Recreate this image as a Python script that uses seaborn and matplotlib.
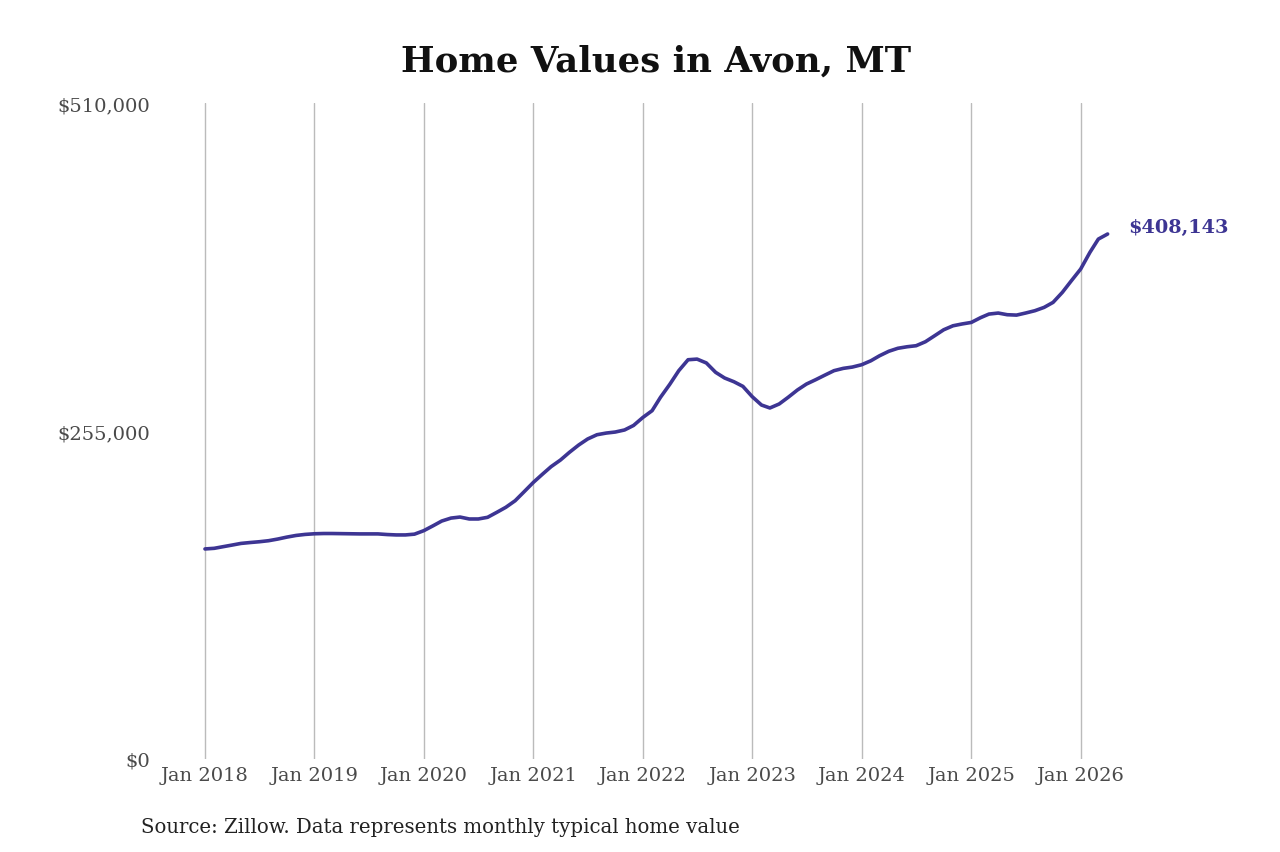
import numpy as np
import pandas as pd
import matplotlib
matplotlib.use("Agg")
import matplotlib.pyplot as plt
import matplotlib.dates as mdates
import seaborn as sns

# Monthly typical home value, Jan 2018 - Apr 2026
values_2018 = [163300, 163800, 165000, 166300, 167600, 168300, 168900, 169700, 171000, 172500, 173800, 174600]
values_2019 = [175100, 175300, 175300, 175200, 175100, 175000, 175000, 175000, 174500, 174200, 174200, 174800]
values_2020 = [177500, 181300, 185000, 187300, 188100, 186600, 186600, 187900, 191800, 195700, 200800, 207800]
values_2021 = [215100, 221600, 227300, 232400, 238400, 244100, 248800, 252100, 253400, 254200, 255800, 259300]
values_2022 = [265500, 270800, 281200, 291300, 301900, 310400, 310900, 307900, 300600, 296200, 293300, 289700]
values_2023 = [281700, 275200, 272900, 276000, 281200, 286900, 291500, 294900, 298500, 301900, 303700, 304700]
values_2024 = [306500, 309600, 313500, 317000, 319300, 320500, 321300, 324400, 329100, 333700, 336800, 338200]
values_2025 = [339400, 343100, 345900, 346700, 345400, 345100, 346700, 348500, 351100, 355000, 362800, 371800]
values_2026 = [380900, 393900, 404200, 408143]

values = (values_2018 + values_2019 + values_2020 + values_2021 + values_2022
          + values_2023 + values_2024 + values_2025 + values_2026)
dates = pd.date_range("2018-01-01", periods=len(values), freq="MS")
df = pd.DataFrame({"date": dates, "value": values})

y_ticks = [0, 255000, 510000]
title = "Home Values in Avon, MT"
source = "Source: Zillow. Data represents monthly typical home value"
line_color = "#3d3593"

sns.set_style("white")
plt.rcParams["font.family"] = ["DejaVu Serif"]

fig = plt.figure(figsize=(12.8, 8.53), dpi=100)
ax = fig.add_axes([184.6 / 1280, 1 - 760 / 853, 944 / 1280, 656 / 853])

sns.lineplot(data=df, x="date", y="value", color=line_color, linewidth=2.6, ax=ax)

ax.set_ylim(0, 510000)
ax.set_xlim(pd.Timestamp("2017-10-25"), pd.Timestamp("2026-06-10"))
ax.set_yticks(y_ticks)
ax.set_yticklabels([f"${v:,.0f}" for v in y_ticks])
ax.xaxis.set_major_locator(mdates.YearLocator(1, month=1, day=1))
ax.xaxis.set_major_formatter(mdates.DateFormatter("%b %Y"))
ax.grid(axis="x", color="#bbbbbb", linewidth=1)
ax.grid(axis="y", visible=False)
for s in ax.spines.values():
    s.set_visible(False)
ax.tick_params(axis="both", length=0, labelsize=14, labelcolor="#4a4a4a")
ax.tick_params(axis="y", pad=25)
ax.tick_params(axis="x", pad=5)
ax.set_xlabel("")
ax.set_ylabel("")

last_date = df["date"].iloc[-1]
last_val = df["value"].iloc[-1]
ax.annotate(f"${last_val:,.0f}", xy=(last_date, last_val), xytext=(15, 5),
            textcoords="offset points", color=line_color, fontsize=13.9,
            fontweight="bold", va="center", ha="left", annotation_clip=False)

fig.text(656 / 1280, 1 - 62 / 853, title, ha="center", va="center",
         fontsize=25.6, fontweight="bold", color="#111111")
fig.text(141 / 1280, 1 - 828 / 853, source, ha="left", va="center",
         fontsize=14.2, color="#222222")

fig.savefig("out.png", dpi=100, facecolor="white")
